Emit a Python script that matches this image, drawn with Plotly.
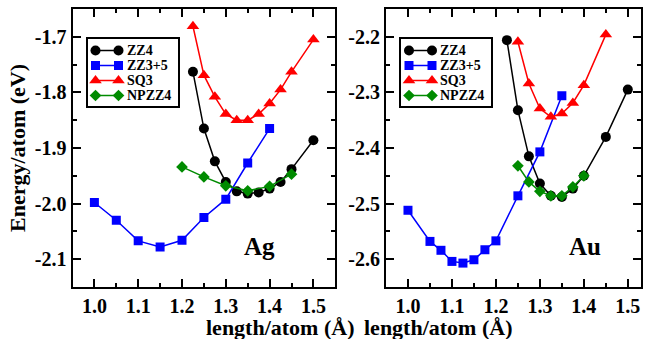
import plotly.graph_objects as go

# ---------------- data ----------------
series_names = ["ZZ4", "ZZ3+5", "SQ3", "NPZZ4"]

# Ag panel
ag_zz4_x = [1.225, 1.25, 1.275, 1.3, 1.325, 1.35, 1.375, 1.4, 1.425, 1.45, 1.5]
ag_zz4_y = [-1.763, -1.865, -1.924, -1.961, -1.978, -1.982, -1.980, -1.973, -1.961, -1.938, -1.886]
ag_zz35_x = [1.0, 1.05, 1.1, 1.15, 1.2, 1.25, 1.3, 1.35, 1.4]
ag_zz35_y = [-1.998, -2.030, -2.067, -2.078, -2.066, -2.025, -1.992, -1.927, -1.865]
ag_sq3_x = [1.225, 1.25, 1.275, 1.3, 1.325, 1.35, 1.375, 1.4, 1.425, 1.45, 1.5]
ag_sq3_y = [-1.681, -1.769, -1.808, -1.839, -1.850, -1.850, -1.839, -1.820, -1.795, -1.763, -1.705]
ag_np_x = [1.2, 1.25, 1.3, 1.35, 1.4, 1.45]
ag_np_y = [-1.934, -1.952, -1.968, -1.977, -1.969, -1.947]

# Au panel
au_zz4_x = [1.225, 1.25, 1.275, 1.3, 1.325, 1.35, 1.375, 1.4, 1.45, 1.5]
au_zz4_y = [-2.206, -2.332, -2.415, -2.464, -2.486, -2.488, -2.473, -2.450, -2.380, -2.295]
au_zz35_x = [1.0, 1.05, 1.075, 1.1, 1.125, 1.15, 1.175, 1.2, 1.25, 1.3, 1.35]
au_zz35_y = [-2.512, -2.568, -2.584, -2.604, -2.607, -2.601, -2.583, -2.567, -2.486, -2.407, -2.306]
au_sq3_x = [1.25, 1.275, 1.3, 1.325, 1.35, 1.375, 1.4, 1.45]
au_sq3_y = [-2.209, -2.284, -2.329, -2.344, -2.338, -2.319, -2.287, -2.196]
au_np_x = [1.25, 1.275, 1.3, 1.325, 1.35, 1.375, 1.4]
au_np_y = [-2.432, -2.461, -2.478, -2.486, -2.486, -2.470, -2.450]

x_tick_vals = [1.0, 1.1, 1.2, 1.3, 1.4, 1.5]
ag_y_tick_vals = [-2.1, -2.0, -1.9, -1.8, -1.7]
ag_y_tick_text = ["-2.1", "-2.0", "-1.9", "-1.8", "-1.7"]
au_y_tick_vals = [-2.6, -2.5, -2.4, -2.3, -2.2]
au_y_tick_text = ["-2.6", "-2.5", "-2.4", "-2.3", "-2.2"]

panel_labels = ["Ag", "Au"]
x_title = "length/atom (Å)"
y_title = "Energy/atom (eV)"

# ---------------- style ----------------
FONT = "Liberation Serif"
colors = ["#000000", "#0000ff", "#ff0000", "#008b00"]
symbols = ["circle", "square", "triangle-up", "diamond"]
msizes = [10, 9, 11, 9]
W, H = 649, 339

fig = go.Figure()

panels = [
    ([ag_zz4_x, ag_zz35_x, ag_sq3_x, ag_np_x], [ag_zz4_y, ag_zz35_y, ag_sq3_y, ag_np_y], "x", "y"),
    ([au_zz4_x, au_zz35_x, au_sq3_x, au_np_x], [au_zz4_y, au_zz35_y, au_sq3_y, au_np_y], "x2", "y2"),
]
for xs, ys, xa, ya in panels:
    for i in range(4):
        fig.add_trace(go.Scatter(
            x=xs[i], y=ys[i], mode="lines+markers", name=series_names[i],
            xaxis=xa, yaxis=ya, showlegend=False,
            line=dict(color=colors[i], width=1.5),
            marker=dict(color=colors[i], symbol=symbols[i], size=msizes[i], line=dict(width=0)),
        ))

tickfont = dict(family=FONT, size=20, color="black", weight="bold")

def common_axis():
    return dict(ticks="inside", ticklen=8, tickwidth=1.5, tickcolor="black",
                minor=dict(ticks="inside", ticklen=4, tickwidth=1.5, tickcolor="black",
                           dtick=0.05, tick0=0, showgrid=False),
                showline=True, linewidth=2, linecolor="black", mirror="allticks",
                showgrid=False, zeroline=False, tickfont=tickfont, automargin=False)

ydom = [52 / H, 1 - 9 / H]
xdom1 = [72.5 / W, 335.3 / W]
xdom2 = [386 / W, 641 / W]

layout_axes = dict(
    xaxis=dict(common_axis(), domain=xdom1, range=[0.95, 1.55], tickvals=x_tick_vals, tickformat=".1f", anchor="y"),
    xaxis2=dict(common_axis(), domain=xdom2, range=[0.95, 1.53], tickvals=x_tick_vals, tickformat=".1f", anchor="y2"),
    yaxis=dict(common_axis(), domain=ydom, range=[-2.15, -1.65], tickvals=ag_y_tick_vals, ticktext=ag_y_tick_text, anchor="x"),
    yaxis2=dict(common_axis(), domain=ydom, range=[-2.65, -2.15], tickvals=au_y_tick_vals, ticktext=au_y_tick_text, anchor="x2"),
)

# ---------------- custom legend boxes (key layout in box-local units) ----------------
legend_boxes = [(87.5, 39.0), (401.0, 39.0)]   # top-left corner of each legend box, px
box_w, box_h = 90.0, 67.0
row_pos = [11.5, 26.5, 41.5, 56.5]
key_x = [8.0, 31.0]
text_x = 37.0

annotations = [
    dict(text=x_title, xref="paper", yref="paper", x=(xdom1[0] + xdom1[1]) / 2, y=1 - 327 / H,
         showarrow=False, font=dict(family=FONT, size=22, color="black", weight="bold"), yanchor="middle"),
    dict(text=x_title, xref="paper", yref="paper", x=(xdom2[0] + xdom2[1]) / 2, y=1 - 327 / H,
         showarrow=False, font=dict(family=FONT, size=22, color="black", weight="bold"), yanchor="middle"),
    dict(text=y_title, xref="paper", yref="paper", x=18 / W, y=1 - 148 / H, textangle=-90,
         showarrow=False, font=dict(family=FONT, size=22, color="black", weight="bold"),
         xanchor="center", yanchor="middle"),
    dict(text=panel_labels[0], xref="x", yref="y", x=1.377, y=-2.078, showarrow=False,
         font=dict(family=FONT, size=25, color="black", weight="bold")),
    dict(text=panel_labels[1], xref="x2", yref="y2", x=1.402, y=-2.578, showarrow=False,
         font=dict(family=FONT, size=25, color="black", weight="bold")),
]

for k, (bx, by) in enumerate(legend_boxes):
    xn, yn = f"x{k + 3}", f"y{k + 3}"
    layout_axes[f"xaxis{k + 3}"] = dict(domain=[bx / W, (bx + box_w) / W], range=[0, box_w], anchor=yn,
                                        showline=True, linewidth=2, linecolor="black", mirror=True,
                                        showticklabels=False, ticks="", showgrid=False, zeroline=False,
                                        fixedrange=True, automargin=False)
    layout_axes[f"yaxis{k + 3}"] = dict(domain=[1 - (by + box_h) / H, 1 - by / H], range=[box_h, 0], anchor=xn,
                                        showline=True, linewidth=2, linecolor="black", mirror=True,
                                        showticklabels=False, ticks="", showgrid=False, zeroline=False,
                                        fixedrange=True, automargin=False)
    for i in range(4):
        fig.add_trace(go.Scatter(
            x=key_x, y=[row_pos[i], row_pos[i]], mode="lines+markers", xaxis=xn, yaxis=yn,
            showlegend=False, hoverinfo="skip", cliponaxis=False,
            line=dict(color=colors[i], width=1.5),
            marker=dict(color=colors[i], symbol=symbols[i], size=msizes[i], line=dict(width=0)),
        ))
        annotations.append(dict(text=series_names[i], xref=xn, yref=yn, x=text_x, y=row_pos[i],
                                xanchor="left", yanchor="middle", showarrow=False,
                                font=dict(family=FONT, size=14, color="black", weight="bold")))

fig.update_layout(
    template="none",
    width=W, height=H, margin=dict(l=0, r=0, t=0, b=0, autoexpand=False),
    paper_bgcolor="white", plot_bgcolor="white",
    showlegend=False,
    font=dict(family=FONT, color="black"),
    annotations=annotations,
    **layout_axes,
)

fig.write_html("out.html", config={"displayModeBar": False},
               post_script="document.body.style.margin='0';document.body.style.overflow='hidden';")
